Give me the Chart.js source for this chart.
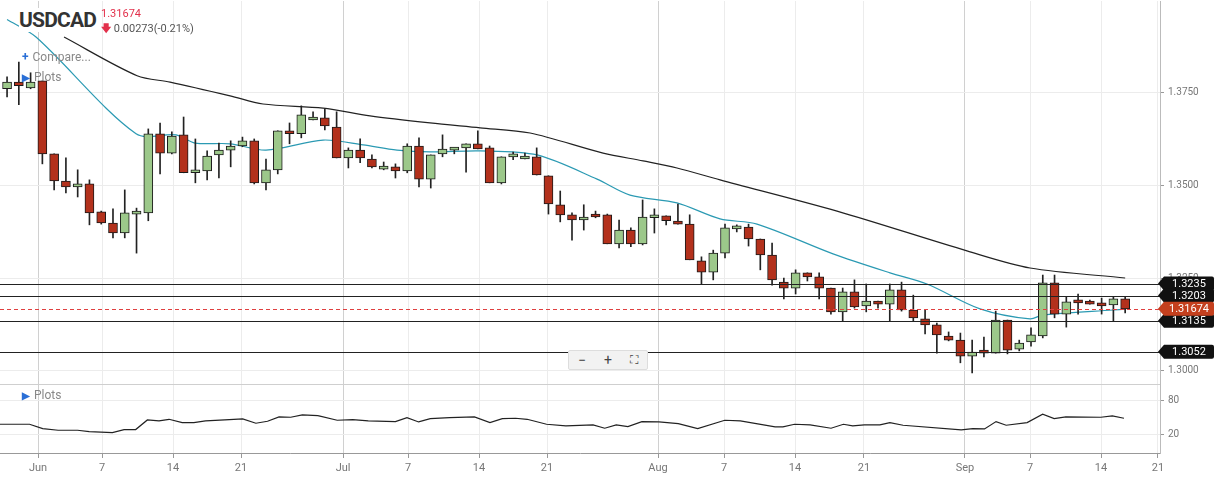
<!DOCTYPE html>
<html>
<head>
<meta charset="utf-8">
<script src="https://cdn.jsdelivr.net/npm/chart.js@4"></script>
<style>
  body { margin: 0; background: #fff; font-family: Roboto, sans-serif; }
  #wrap { position: relative; width: 1217px; height: 480px; overflow: hidden; }
  #mainBox { position: absolute; left: 0; top: -9px; width: 1217px; height: 403px; }
  #lowBox { position: absolute; left: 0; top: 374px; width: 1217px; height: 107px; }
  .ov { position: absolute; white-space: nowrap; }
  .title { left: 19px; top: 8px; font-size: 21px; font-weight: 700; color: #333; font-family: "Roboto", sans-serif; letter-spacing: -0.8px; background: #fff; padding-right: 2px; }
  .last { left: 101px; top: 7px; font-size: 11px; color: #e2304b; }
  .chg { left: 101px; top: 21px; font-size: 11px; color: #555; }
  .chg b { color: #e2304b; font-size: 10px; }
  .menu { font-size: 12px; color: #888; }
  .menu span { color: #2a6fd6; font-weight: 700; margin-right: 4px; }
  .zoomctl { left: 568px; top: 350px; width: 78px; height: 18px; background: #f2f2f2; border: 1px solid #ddd; border-radius: 2px; font-size: 14px; color: #444; display: flex; justify-content: space-around; align-items: center; }
</style>
</head>
<body>
<div id="wrap">
  <div id="mainBox"><canvas id="mainChart"></canvas></div>
  <div id="lowBox"><canvas id="lowChart"></canvas></div>
  <div class="ov title">USDCAD</div>
  <div class="ov last">1.31674</div>
  <div class="ov chg"><b>&#129095;</b> 0.00273(-0.21%)</div>
  <div class="ov menu" style="left:22px;top:50px;"><span>+</span>Compare...</div>
  <div class="ov menu" style="left:22px;top:70px;"><span style="font-size:10px">&#9654;</span>Plots</div>
  <div class="ov menu" style="left:22px;top:388px;"><span style="font-size:10px">&#9654;</span>Plots</div>
  <div class="ov zoomctl"><span>&minus;</span><span>+</span><span style="font-size:12px">&#x26F6;</span></div>
</div>
<script>
// OHLC per candle, [open, high, low, close]
const ohlc = [
  [1.3759,1.3791,1.3737,1.3777],[1.3777,1.3831,1.3716,1.3767],[1.3761,1.3802,1.3759,1.3777],[1.3780,1.3780,1.3557,1.3584],
  [1.3584,1.3584,1.3487,1.3511],[1.3511,1.3573,1.3479,1.3495],[1.3495,1.3541,1.3468,1.3503],[1.3503,1.3514,1.3393,1.3425],
  [1.3428,1.3430,1.3395,1.3398],[1.3398,1.3436,1.3358,1.3371],[1.3371,1.3487,1.3358,1.3425],[1.3422,1.3438,1.3317,1.3428],
  [1.3425,1.3651,1.3404,1.3638],[1.3638,1.3667,1.3530,1.3586],[1.3586,1.3643,1.3584,1.3632],[1.3635,1.3683,1.3533,1.3533],
  [1.3533,1.3624,1.3506,1.3538],[1.3538,1.3592,1.3514,1.3578],[1.3581,1.3613,1.3519,1.3594],[1.3594,1.3619,1.3549,1.3605],
  [1.3605,1.3629,1.3603,1.3619],[1.3619,1.3624,1.3503,1.3506],[1.3506,1.3570,1.3487,1.3541],[1.3541,1.3646,1.3530,1.3646],
  [1.3646,1.3667,1.3611,1.3638],[1.3638,1.3713,1.3627,1.3689],[1.3675,1.3697,1.3675,1.3681],[1.3681,1.3705,1.3648,1.3659],
  [1.3656,1.3697,1.3573,1.3573],[1.3573,1.3600,1.3546,1.3594],[1.3594,1.3624,1.3560,1.3573],[1.3570,1.3581,1.3546,1.3549],
  [1.3543,1.3562,1.3541,1.3549],[1.3549,1.3557,1.3519,1.3538],[1.3538,1.3611,1.3533,1.3605],[1.3605,1.3627,1.3495,1.3516],
  [1.3516,1.3581,1.3492,1.3581],[1.3584,1.3635,1.3576,1.3597],[1.3594,1.3600,1.3584,1.3600],[1.3600,1.3611,1.3535,1.3611],
  [1.3611,1.3646,1.3597,1.3597],[1.3600,1.3605,1.3506,1.3506],[1.3506,1.3576,1.3503,1.3576],[1.3576,1.3589,1.3568,1.3584],
  [1.3570,1.3586,1.3570,1.3576],[1.3576,1.3600,1.3527,1.3527],[1.3525,1.3525,1.3422,1.3449],[1.3447,1.3484,1.3401,1.3420],
  [1.3420,1.3425,1.3352,1.3406],[1.3406,1.3447,1.3379,1.3414],[1.3422,1.3430,1.3412,1.3414],[1.3420,1.3422,1.3342,1.3342],
  [1.3342,1.3406,1.3331,1.3379],[1.3379,1.3385,1.3334,1.3342],[1.3342,1.3460,1.3339,1.3414],[1.3412,1.3436,1.3371,1.3417],
  [1.3417,1.3417,1.3393,1.3404],[1.3401,1.3449,1.3395,1.3395],[1.3395,1.3420,1.3299,1.3299],[1.3296,1.3307,1.3234,1.3266],
  [1.3266,1.3325,1.3245,1.3317],[1.3317,1.3395,1.3304,1.3385],[1.3382,1.3393,1.3374,1.3387],[1.3387,1.3395,1.3336,1.3355],
  [1.3355,1.3355,1.3272,1.3312],[1.3312,1.3344,1.3231,1.3245],[1.3239,1.3250,1.3194,1.3223],[1.3223,1.3272,1.3207,1.3264],
  [1.3264,1.3264,1.3242,1.3253],[1.3253,1.3264,1.3194,1.3223],[1.3223,1.3223,1.3153,1.3159],[1.3159,1.3223,1.3135,1.3213],
  [1.3213,1.3245,1.3169,1.3172],[1.3175,1.3234,1.3159,1.3188],[1.3188,1.3188,1.3169,1.3180],[1.3180,1.3234,1.3135,1.3218],
  [1.3218,1.3239,1.3161,1.3164],[1.3164,1.3204,1.3135,1.3143],[1.3140,1.3164,1.3100,1.3124],[1.3124,1.3129,1.3048,1.3097],
  [1.3094,1.3105,1.3081,1.3083],[1.3083,1.3102,1.3022,1.3040],[1.3040,1.3083,1.2995,1.3051],[1.3054,1.3091,1.3038,1.3048],
  [1.3048,1.3161,1.3048,1.3137],[1.3137,1.3137,1.3046,1.3056],[1.3059,1.3083,1.3054,1.3075],[1.3078,1.3116,1.3067,1.3097],
  [1.3094,1.3258,1.3089,1.3237],[1.3237,1.3258,1.3143,1.3153],[1.3153,1.3199,1.3118,1.3186],[1.3188,1.3207,1.3153,1.3183],
  [1.3186,1.3191,1.3180,1.3180],[1.3180,1.3196,1.3153,1.3175],[1.3178,1.3199,1.3135,1.3194],[1.3194,1.3199,1.3156,1.3167]
];

// moving averages: [candle index, price]
const maFast = [[0,1.3945],[2.46,1.3898],[10.96,1.3638],[14.36,1.3635],[15.97,1.3613],[18.95,1.3611],[22,1.3594],
  [26.85,1.3621],[30.25,1.3608],[33.13,1.3594],[35.94,1.3589],[40.19,1.3592],[45.03,1.3581],[50.13,1.3516],
  [52.93,1.3473],[56.92,1.3452],[60.58,1.3409],[63.72,1.3395],[70.18,1.3315],[75.02,1.3264],[78.16,1.3234],
  [82.67,1.3167],[86.92,1.3140],[88.02,1.3151],[93.97,1.3164],[95,1.3166]];
const maSlow = [[4.84,1.3898],[11.05,1.3794],[13.85,1.3777],[18.95,1.3740],[21.75,1.3718],[26.85,1.3707],
  [30.84,1.3686],[35.94,1.3667],[40.19,1.3654],[44.44,1.3640],[50.64,1.3586],[54.04,1.3565],[56.92,1.3546],
  [60.58,1.3514],[70.52,1.3430],[81.56,1.3323],[86.92,1.3277],[95,1.3250]];

// lower indicator: [candle index, value]
const osc = [[-0.6,38.8],[1.91,38.8],[3.03,31.2],[4.34,28.2],[5.99,28.2],[6.98,25.9],[8.95,24.1],[9.94,29.4],
  [10.93,29.4],[11.92,46.5],[12.91,44.7],[13.76,47.6],[14.88,41.8],[15.87,41.8],[16.86,44.7],[18.5,46.5],
  [20.02,48.2],[21.14,40.6],[22.13,44.1],[23.11,51.8],[24.1,51.2],[25.09,55.3],[26.41,54.1],[28.05,45.9],
  [29.37,47.1],[30.69,44.7],[33,43.5],[33.98,50.6],[34.97,42.9],[35.96,48.8],[37.6,50.6],[39.71,51.8],
  [41.03,41.8],[42.08,48.8],[43.2,49.4],[44.19,47.6],[45.84,38.8],[47.48,35.9],[49.79,37.6],[50.78,31.8],
  [51.76,37.6],[52.75,34.7],[53.94,43.5],[55.39,42.9],[57.03,40],[58.68,31.2],[60.98,45.9],[62.3,44.7],
  [65.26,34.1],[65.92,34.1],[66.91,38.8],[68.23,37.6],[70.01,31.8],[71.06,38.8],[71.85,35.9],[72.84,37.6],
  [74.16,37.6],[75.01,41.8],[76.13,37.1],[81.07,28.8],[82.06,31.2],[83.05,30.6],[84.03,43.5],[84.89,37.1],
  [86.67,41.8],[87.99,56.5],[88.97,48.8],[89.96,51.8],[92.93,51.2],[93.91,53.5],[94.9,49.4]];

const levels = [1.3235, 1.3203, 1.3135, 1.3052];
const lastPrice = 1.31674;
const priceTicks = [1.3000, 1.3250, 1.3500, 1.3750];
const oscTicks = [20, 80];

// date ticks sit between candles (weekends are skipped)
const dateTickPos = [2.63, 8.07, 14.1, 19.88, 28.55, 34.07, 40.1, 45.88, 55.31, 60.92, 66.95, 72.81, 81.39, 86.92, 92.95, 97.79];
const dateTickLabels = ['Jun','7','14','21','Jul','7','14','21','Aug','7','14','21','Sep','7','14','21'];
const monthTicks = [2.63, 28.55, 55.31, 81.39];

const X_MIN = -0.6, X_MAX = 97.96;
const UP = '#9cc88a', DOWN = '#b3311c';

function gridColor(ctx) {
  return ctx.tick && monthTicks.includes(ctx.tick.value) ? '#d0d0d0' : '#ececec';
}
function setDateTicks(scale) {
  scale.ticks = dateTickPos.map(v => ({ value: v }));
}
const rightFit = s => { s.width = 57; };

const levelPlugin = {
  id: 'levels',
  afterDatasetsDraw(chart) {
    const { ctx, chartArea: a, scales: { y } } = chart;
    ctx.save();
    ctx.lineWidth = 1;
    ctx.strokeStyle = '#222';
    levels.forEach(l => {
      const py = Math.round(y.getPixelForValue(l)) + 0.5;
      ctx.beginPath(); ctx.moveTo(a.left, py); ctx.lineTo(a.right, py); ctx.stroke();
    });
    const pl = Math.round(y.getPixelForValue(lastPrice)) + 0.5;
    ctx.strokeStyle = '#e04040';
    ctx.setLineDash([4, 3]);
    ctx.beginPath(); ctx.moveTo(a.left, pl); ctx.lineTo(a.right, pl); ctx.stroke();
    ctx.setLineDash([]);
    const tag = (val, text, color) => {
      const py = y.getPixelForValue(val);
      const x0 = a.right - 2, w = 56, h = 14;
      ctx.fillStyle = color;
      ctx.beginPath();
      ctx.moveTo(x0, py);
      ctx.lineTo(x0 + 6, py - h / 2);
      ctx.lineTo(x0 + w - 2, py - h / 2);
      ctx.quadraticCurveTo(x0 + w, py - h / 2, x0 + w, py - h / 2 + 2);
      ctx.lineTo(x0 + w, py + h / 2 - 2);
      ctx.quadraticCurveTo(x0 + w, py + h / 2, x0 + w - 2, py + h / 2);
      ctx.lineTo(x0 + 6, py + h / 2);
      ctx.closePath();
      ctx.fill();
      ctx.fillStyle = '#fff';
      ctx.font = '11px Roboto';
      ctx.textAlign = 'center';
      ctx.textBaseline = 'middle';
      ctx.fillText(text, x0 + 6 + (w - 6) / 2, py + 0.5);
    };
    levels.forEach(l => tag(l, l.toFixed(4), '#111'));
    tag(lastPrice, lastPrice.toFixed(5), '#c4401e');
    ctx.restore();
  }
};

new Chart(document.getElementById('mainChart'), {
  type: 'bar',
  data: {
    datasets: [
      {
        type: 'line', data: maFast.map(p => ({ x: p[0], y: p[1] })),
        borderColor: '#2b9ab3', borderWidth: 1.2, pointRadius: 0, tension: 0.3, order: 3
      },
      {
        type: 'line', data: maSlow.map(p => ({ x: p[0], y: p[1] })),
        borderColor: '#222', borderWidth: 1.2, pointRadius: 0, tension: 0.3, order: 3
      },
      {
        data: ohlc.map((c, i) => ({ x: i, y: [c[2], c[1]] })),
        backgroundColor: '#222', barThickness: 1, grouped: false, order: 2
      },
      {
        data: ohlc.map((c, i) => ({ x: i, y: [c[0], c[3]] })),
        backgroundColor: ohlc.map(c => c[3] >= c[0] ? UP : DOWN),
        borderColor: '#1a1a1a', borderWidth: 1, borderSkipped: false,
        barThickness: 9, minBarLength: 3, grouped: false, order: 1
      }
    ]
  },
  options: {
    responsive: true, maintainAspectRatio: false, animation: false,
    layout: { padding: 0 },
    plugins: { legend: { display: false }, tooltip: { enabled: false } },
    scales: {
      x: {
        type: 'linear', min: X_MIN, max: X_MAX, offset: false,
        afterBuildTicks: setDateTicks,
        afterFit: s => { s.height = 0; },
        grid: { color: gridColor, drawTicks: false, offset: false },
        ticks: { display: false, autoSkip: false },
        border: { display: false }
      },
      y: {
        position: 'right', min: 1.2965, max: 1.3995,
        afterBuildTicks: s => { s.ticks = priceTicks.map(v => ({ value: v })); },
        afterFit: rightFit,
        grid: { color: '#ececec', tickLength: 4, tickColor: '#999' },
        border: { display: true, color: '#bbb' },
        ticks: { color: '#777', font: { family: 'Roboto', size: 10 }, padding: 4, callback: v => v.toFixed(4) }
      }
    }
  },
  plugins: [levelPlugin]
});

new Chart(document.getElementById('lowChart'), {
  type: 'line',
  data: {
    datasets: [{
      data: osc.map(p => ({ x: p[0], y: p[1] })),
      borderColor: '#222', borderWidth: 1.2, pointRadius: 0, tension: 0
    }]
  },
  options: {
    responsive: true, maintainAspectRatio: false, animation: false,
    layout: { padding: 0 },
    plugins: { legend: { display: false }, tooltip: { enabled: false } },
    scales: {
      x: {
        type: 'linear', min: X_MIN, max: X_MAX,
        afterBuildTicks: setDateTicks,
        afterFit: s => { s.height = 28; },
        grid: { color: gridColor, tickLength: 5, tickColor: '#999' },
        border: { display: true, color: '#999' },
        ticks: {
          color: '#777', font: { family: 'Roboto', size: 11 }, padding: 4, maxRotation: 0, autoSkip: false,
          callback: v => dateTickLabels[dateTickPos.indexOf(v)]
        }
      },
      y: {
        position: 'right', min: -12, max: 110,
        afterBuildTicks: s => { s.ticks = oscTicks.map(v => ({ value: v })); },
        afterFit: rightFit,
        grid: { color: '#ececec', tickLength: 4, tickColor: '#999' },
        border: { display: true, color: '#bbb' },
        ticks: { color: '#777', font: { family: 'Roboto', size: 10 }, padding: 4 }
      }
    }
  },
  plugins: [{
    id: 'topline',
    afterDraw(chart) {
      const { ctx, chartArea: a } = chart;
      ctx.save();
      ctx.strokeStyle = '#cfcfcf';
      ctx.beginPath(); ctx.moveTo(0, Math.round(a.top) + 0.5); ctx.lineTo(a.right, Math.round(a.top) + 0.5); ctx.stroke();
      ctx.restore();
    }
  }]
});
</script>
</body>
</html>
